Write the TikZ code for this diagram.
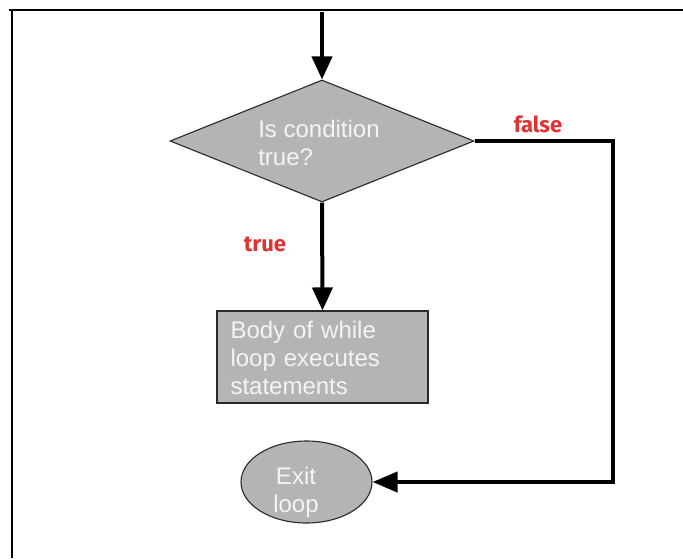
\documentclass[tikz,border=0pt]{standalone}
\usepackage{fontspec}
\setmainfont{Liberation Sans}
\newfontfamily\labfont{Fira Sans}
\usetikzlibrary{shapes.geometric,arrows.meta}
\definecolor{shapefill}{HTML}{B4B4B4}
\definecolor{shapeedge}{HTML}{2A2A2A}
\definecolor{labred}{HTML}{E03232}
\definecolor{txtwhite}{HTML}{F4F4F4}
\tikzset{
  shapestyle/.style={fill=shapefill, draw=shapeedge, line width=1.1pt},
  bodytext/.style={text=txtwhite, font=\fontsize{24}{28}\selectfont, align=left, inner sep=0pt},
  flowline/.style={line width=4pt, -{Triangle[width=20pt,length=23pt]}},
  redlabel/.style={text=labred, font=\labfont\bfseries\fontsize{22}{26}\selectfont, inner sep=0pt},
}
\begin{document}
\begin{tikzpicture}[x=1pt,y=-1pt]
\useasboundingbox (0,0) rectangle (683,558);
% frame
\draw[line width=2.2pt] (9,10) -- (683,10);
\draw[line width=2.2pt] (12,10) -- (12,558);
% shapes
\node[shapestyle, diamond, minimum width=304pt, minimum height=122pt, inner sep=0pt] (dia) at (322,141) {};
\node[bodytext] (diatext) at (319,143) {Is condition\\true?};
\node[shapestyle, rectangle, minimum width=211pt, minimum height=92pt, inner sep=0pt] (body) at (322.5,357) {};
\node[bodytext, text width=185pt] (bodytext) at (323,358) {Body of while\\loop executes\\statements};
\node[shapestyle, ellipse, minimum width=131pt, minimum height=82pt, inner sep=0pt] (exit) at (306.5,482) {};
\node[bodytext, align=center] (exittext) at (296,492) {Exit\\loop};
% connectors
\coordinate (start) at (322,12);
\draw[flowline] (start) -- (dia.north);
\draw[flowline] (dia.south) -- (body.north);
\draw[line width=4pt, -{Triangle[width=20pt,length=25pt]}] (dia.east) -- (613,141) |- (exit.east);
% labels
\node[redlabel] (truelab) at (265,244) {true};
\node[redlabel] (falselab) at (538,124) {false};
\end{tikzpicture}
\end{document}
